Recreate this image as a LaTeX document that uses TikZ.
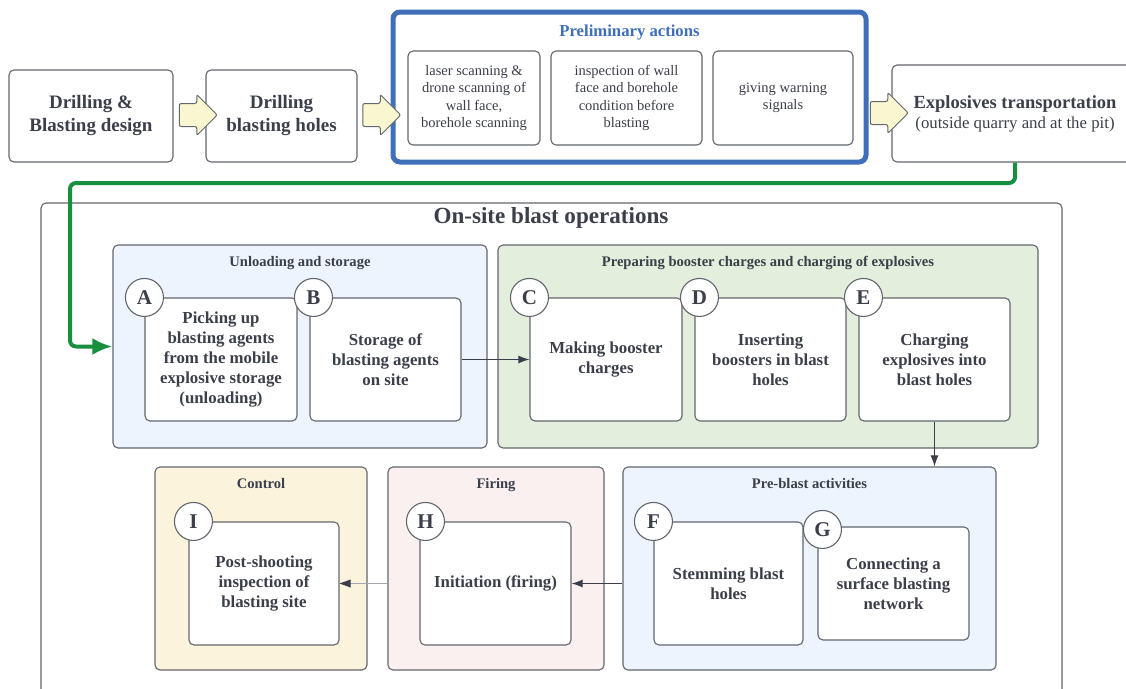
\documentclass[tikz,border=0pt]{standalone}
\usepackage{fontspec}
\setmainfont{Liberation Serif}
\usetikzlibrary{shapes,arrows.meta,positioning}

\definecolor{txtC}{HTML}{3B3F4A}
\definecolor{boxC}{HTML}{62666D}
\definecolor{blueC}{HTML}{3E6FB8}
\definecolor{greenC}{HTML}{178F3F}
\definecolor{yelC}{HTML}{FAF6D0}
\definecolor{blueF}{HTML}{EDF4FD}
\definecolor{greenF}{HTML}{E3EFDC}
\definecolor{yelF}{HTML}{FBF3DC}
\definecolor{pinkF}{HTML}{FBF0F0}
\definecolor{lineL}{HTML}{A3A7AE}

\begin{document}
\begin{tikzpicture}
  [x=1pt,y=-1pt,
   stepN/.style={rectangle,draw=boxC,fill=white,line width=1.1pt,rounded corners=5pt,
     align=center,text=txtC,inner sep=2pt,font=\bfseries\fontsize{16.8}{20.2}\selectfont},
   topN/.style={stepN,font=\bfseries\fontsize{19}{23}\selectfont},
   smallN/.style={stepN,font=\fontsize{14.5}{17.5}\selectfont},
   groupN/.style={rectangle,draw=boxC,line width=1.1pt,rounded corners=5pt,inner sep=0pt},
   grpT/.style={inner sep=0pt,text=txtC,font=\bfseries\fontsize{14.6}{16}\selectfont},
   letterN/.style={circle,draw=boxC,fill=white,line width=1.1pt,minimum size=38pt,
     inner sep=0pt,text=txtC,font=\bfseries\fontsize{21}{22}\selectfont},
   fatA/.style={single arrow,draw=boxC,fill=yelC,line width=1pt,inner sep=11pt,
     minimum height=38pt,single arrow head extend=9pt,rounded corners=2pt},
   flowA/.style={draw=txtC,line width=1pt,-{Latex[length=11pt,width=8pt]}}]

  \useasboundingbox (0,0) rectangle (1126,688);
  \clip (0,0) rectangle (1126,688);

  % top row
  \node[topN,minimum width=164pt,minimum height=92pt] (design) at (91,116)
    {Drilling \&\\Blasting design};
  \node[topN,minimum width=151pt,minimum height=92pt] (drill) at (281.5,116)
    {Drilling\\blasting holes};
  \node[rectangle,draw=blueC,line width=5pt,rounded corners=7pt,
        minimum width=473pt,minimum height=150pt] (prelim) at (629.5,87) {};
  \node[inner sep=0pt,text=blueC,font=\bfseries\fontsize{16.7}{18}\selectfont]
    (prelimT) at (629.5,33) {Preliminary actions};
  \node[smallN,minimum width=132pt,minimum height=94pt] (scan) at (474,98)
    {laser scanning \&\\drone scanning of\\wall face,\\borehole scanning};
  \node[smallN,minimum width=151pt,minimum height=94pt] (inspect) at (626.5,98)
    {inspection of wall\\face and borehole\\condition before\\blasting};
  \node[smallN,minimum width=140pt,minimum height=94pt] (warn) at (783,98)
    {giving warning\\signals};
  \node[stepN,minimum width=246pt,minimum height=97pt] (trans) at (1015,113.5)
    {\fontsize{18.5}{22}\selectfont Explosives transportation\\
     \mdseries\fontsize{16.8}{22}\selectfont (outside quarry and at the pit)};

  \node[fatA] (a1) at (192.5,115) {};
  \node[fatA] (a2) at (376,115) {};
  \node[fatA] (a3) at (883.5,113) {};

  % on-site frame
  \node[groupN,minimum width=1021pt,minimum height=517pt] (onsite) at (551.5,461.5) {};
  \node[inner sep=0pt,text=txtC,font=\bfseries\fontsize{23.1}{25}\selectfont]
    (onsiteT) at (551,218) {On-site blast operations};

  % groups
  \node[groupN,fill=blueF,minimum width=374pt,minimum height=203pt] (unload) at (300,346.5) {};
  \node[groupN,fill=greenF,minimum width=540pt,minimum height=203pt] (prep) at (768,346.5) {};
  \node[groupN,fill=yelF,minimum width=212pt,minimum height=203pt] (control) at (261,568.5) {};
  \node[groupN,fill=pinkF,minimum width=216pt,minimum height=203pt] (firing) at (496,568.5) {};
  \node[groupN,fill=blueF,minimum width=373pt,minimum height=203pt] (pre) at (809.5,568.5) {};

  \node[grpT,below=12pt of unload.north] {Unloading and storage};
  \node[grpT,below=12pt of prep.north] {Preparing booster charges and charging of explosives};
  \node[grpT,below=12pt of control.north] {Control};
  \node[grpT,below=12pt of firing.north] {Firing};
  \node[grpT,below=12pt of pre.north] {Pre-blast activities};

  % steps
  \node[stepN,minimum width=152pt,minimum height=123pt] (A) at (221,359.5)
    {Picking up\\blasting agents\\from the mobile\\explosive storage\\(unloading)};
  \node[stepN,minimum width=151pt,minimum height=123pt] (B) at (385.5,359.5)
    {Storage of\\blasting agents\\on site};
  \node[stepN,minimum width=152pt,minimum height=123pt] (C) at (606,359.5)
    {Making booster\\charges};
  \node[stepN,minimum width=151pt,minimum height=123pt] (D) at (770.5,359.5)
    {Inserting\\boosters in blast\\holes};
  \node[stepN,minimum width=151pt,minimum height=123pt] (E) at (934.5,359.5)
    {Charging\\explosives into\\blast holes};
  \node[stepN,minimum width=149pt,minimum height=123pt] (F) at (728.5,583.5)
    {Stemming blast\\holes};
  \node[stepN,minimum width=151pt,minimum height=113pt] (G) at (893.5,583.5)
    {Connecting a\\surface blasting\\network};
  \node[stepN,minimum width=151pt,minimum height=123pt] (H) at (495.5,583.5)
    {Initiation (firing)};
  \node[stepN,minimum width=150pt,minimum height=123pt] (I) at (264,583.5)
    {Post-shooting\\inspection of\\blasting site};

  \node[letterN] (lA) at (A.north west) {A};
  \node[letterN] (lB) at ([xshift=4pt]B.north west) {B};
  \node[letterN] (lC) at (C.north west) {C};
  \node[letterN] (lD) at ([xshift=5pt]D.north west) {D};
  \node[letterN] (lE) at ([xshift=5pt]E.north west) {E};
  \node[letterN] (lF) at (F.north west) {F};
  \node[letterN] (lG) at ([xshift=5pt,yshift=-3pt]G.north west) {G};
  \node[letterN] (lH) at ([xshift=6pt]H.north west) {H};
  \node[letterN] (lI) at ([xshift=5pt]I.north west) {I};

  % connectors
  \coordinate (gbend) at (70,183);
  \draw[greenC,line width=4pt,rounded corners=6pt,-{Latex[length=20pt,width=17pt]}]
    (trans.south) |- (gbend) |- (unload.west);
  \draw[flowA] (B.east) -- (C.west);
  \draw[flowA] (E.south) -- (E.south |- pre.north);
  \draw[flowA] (H.east -| pre.west) -- (H.east);
  \draw[flowA,draw=lineL] (I.east -| firing.west) -- (I.east);
  \fill[txtC] (I.east) -- ++(11,-4) -- ++(0,8) -- cycle;

\end{tikzpicture}
\end{document}
